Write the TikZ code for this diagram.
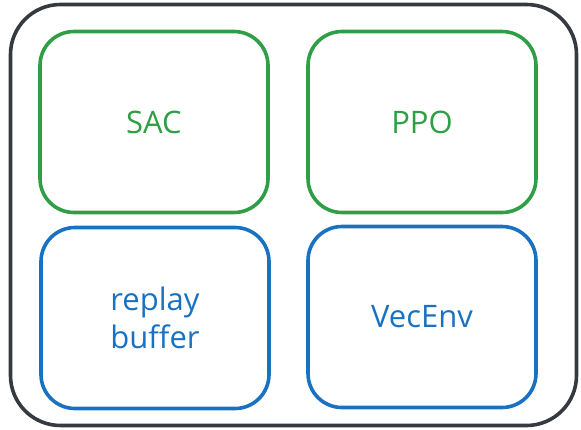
\documentclass[tikz,border=0pt]{standalone}
\usepackage{fontspec}
\setmainfont{Open Sans}
\usepackage{tikz}

\definecolor{algogreen}{HTML}{2F9E44}
\definecolor{infrablue}{HTML}{1971C2}
\definecolor{framegray}{HTML}{343A40}

\begin{document}
\begin{tikzpicture}[x=1pt,y=-1pt]
  \useasboundingbox (0,0) rectangle (581,429);
  % outer frame
  \node[draw=framegray,line width=3.6pt,rounded corners=50pt,minimum width=566pt,minimum height=421pt] (frame) at (293.5,215) {};
  \begin{scope}[every node/.style={draw,line width=3.6pt,rounded corners=34pt,minimum width=228pt,minimum height=181pt,align=center,font=\fontsize{31}{38}\selectfont}]
  \node[draw=algogreen,text=algogreen] (sac) at (154,122) {SAC};
  \node[draw=algogreen,text=algogreen] (ppo) at (422,122) {PPO};
  \node[draw=infrablue,text=infrablue] (replay) at (155,318) {replay\\buffer};
  \node[draw=infrablue,text=infrablue] (vecenv) at (422,317) {VecEnv};
  \end{scope}
\end{tikzpicture}
\end{document}
